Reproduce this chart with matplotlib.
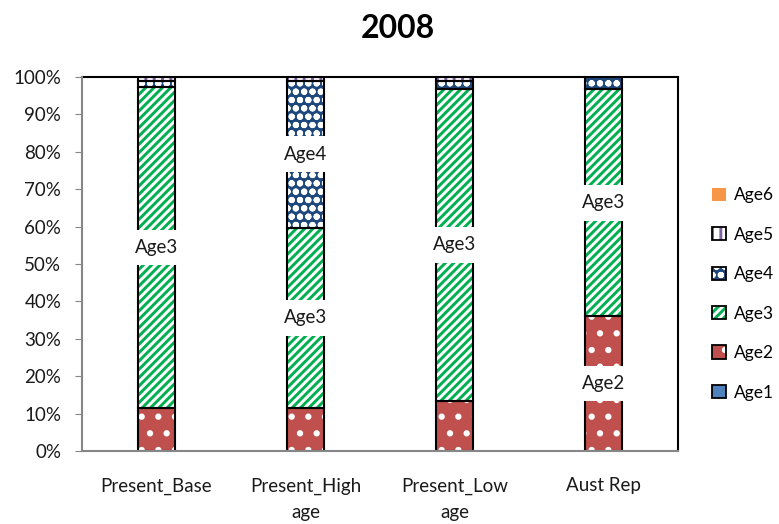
import matplotlib
matplotlib.use("Agg")
import matplotlib.pyplot as plt
from matplotlib.patches import Patch
from matplotlib.legend_handler import HandlerTuple
from matplotlib.ticker import PercentFormatter
import numpy as np

categories = ["Present_Base", "Present_High\nage", "Present_Low\nage", "Aust Rep"]
series_names = ["Age1", "Age2", "Age3", "Age4", "Age5", "Age6"]
age1 = [0.0, 0.0, 0.0, 0.0]
age2 = [11.5, 11.6, 13.3, 36.1]
age3 = [85.8, 48.1, 83.6, 60.6]
age4 = [1.6, 39.3, 1.9, 3.3]
age5 = [1.1, 1.0, 1.2, 0.0]
age6 = [0.0, 0.0, 0.0, 0.0]
title = "2008"

plt.rcParams['font.family'] = ['Lato', 'DejaVu Sans']
plt.rcParams['hatch.linewidth'] = 2.1

styles = {
    "Age1": dict(face="#4F81BD", hatch=None, hc=None),
    "Age2": dict(face="#C0504D", hatch=".", hc="white"),
    "Age3": dict(face="white", hatch="////", hc="#00B050"),
    "Age4": dict(face="#1F497D", hatch="oo", hc="white"),
    "Age5": dict(face="white", hatch="||", hc="#8064A2"),
    "Age6": dict(face="#F79646", hatch=None, hc=None),
}

FS = 13.5

fig = plt.figure(figsize=(7.79, 5.24), dpi=100)
ax = fig.add_axes([82/779, 1-451/524, 596/779, 374/524])

data = [age1, age2, age3, age4, age5, age6]
x = np.arange(len(categories))
width = 0.255
bottom = np.zeros(len(categories))
for name, vals in zip(series_names, data):
    vals = np.array(vals)
    st = styles[name]
    mask = vals > 0
    if mask.any():
        if st["hatch"]:
            ax.bar(x[mask], vals[mask], width, bottom=bottom[mask], facecolor=st["face"],
                   edgecolor=st["hc"], hatch=st["hatch"], linewidth=0, zorder=2)
        else:
            ax.bar(x[mask], vals[mask], width, bottom=bottom[mask], facecolor=st["face"],
                   linewidth=0, zorder=2)
        ax.bar(x[mask], vals[mask], width, bottom=bottom[mask], facecolor="none",
               edgecolor="black", linewidth=1.5, zorder=3)
        for xi, v, b in zip(x, vals, bottom):
            if v >= 20:
                ax.text(xi, b + v / 2, name, ha="center", va="center", fontsize=FS,
                        color="#1a1a1a", zorder=4,
                        bbox=dict(boxstyle="square,pad=0.5", facecolor="white", edgecolor="none"))
    bottom += vals

ax.set_xlim(-0.5, len(categories) - 0.5)
ax.set_ylim(0, 100)
ax.set_yticks(np.arange(0, 101, 10))
ax.yaxis.set_major_formatter(PercentFormatter(decimals=0))
ax.set_xticks(x)
ax.set_xticklabels(categories, fontsize=FS, linespacing=1.65)
ax.tick_params(axis="y", labelsize=FS, length=5, color="#868686", pad=10, direction="out")
ax.tick_params(axis="x", length=0, pad=19)
for lab in ax.get_xticklabels() + ax.get_yticklabels():
    lab.set_color("#1a1a1a")

for s in ["left", "bottom"]:
    ax.spines[s].set_color("#868686")
    ax.spines[s].set_linewidth(1.5)
for s in ["top", "right"]:
    ax.spines[s].set_color("black")
    ax.spines[s].set_linewidth(1.5)
ax.spines["left"].set_zorder(5)
ax.spines["bottom"].set_zorder(5)

fig.text(398/779, 1-28/524, title, ha="center", va="center", fontsize=23, fontweight="bold")

handles = []
for name in series_names:
    st = styles[name]
    if st["hatch"]:
        h1 = Patch(facecolor=st["face"], edgecolor=st["hc"], hatch=st["hatch"], linewidth=0)
        h2 = Patch(facecolor="none", edgecolor="black", linewidth=1.3)
        handles.append((h1, h2))
    elif name == "Age6":
        handles.append(Patch(facecolor=st["face"], linewidth=0))
    else:
        handles.append(Patch(facecolor=st["face"], edgecolor="black", linewidth=1.3))

leg = fig.legend(handles[::-1], series_names[::-1], loc="center left",
                 bbox_to_anchor=(712/779, 1-294/524), frameon=False, fontsize=12.5,
                 borderaxespad=0, borderpad=0,
                 handlelength=0.8, handleheight=0.8, handletextpad=0.45, labelspacing=1.35,
                 handler_map={tuple: HandlerTuple(ndivide=1, pad=0)})

fig.savefig("out.png", dpi=100)
